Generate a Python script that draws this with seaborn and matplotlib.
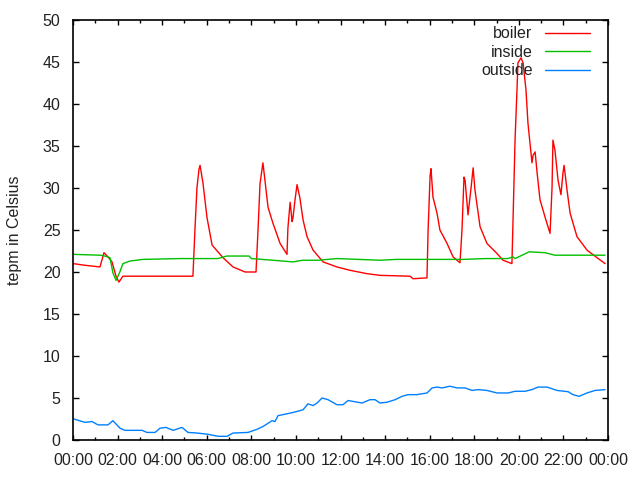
import numpy as np
import pandas as pd
import seaborn as sns
import matplotlib
matplotlib.use("Agg")
import matplotlib.pyplot as plt
from matplotlib.ticker import FuncFormatter, MultipleLocator

# hours since midnight, temperatures
boiler_h = [0.00, 0.54, 1.21, 1.39, 1.57, 1.75, 1.93, 2.06, 2.24, 5.38, 5.47, 5.56, 5.65, 5.70,
            5.83, 6.01, 6.24, 6.73, 7.18, 7.72, 8.21, 8.30, 8.39, 8.52, 8.75, 8.97, 9.29, 9.60,
            9.64, 9.74, 9.83, 9.87, 9.96, 10.05, 10.18, 10.32, 10.50, 10.77, 11.22, 11.84, 12.43,
            13.19, 13.77, 15.12, 15.25, 15.88, 15.93, 16.02, 16.06, 16.15, 16.33, 16.46, 16.78,
            17.05, 17.36, 17.45, 17.54, 17.59, 17.72, 17.86, 17.95, 18.03, 18.26, 18.57, 19.02,
            19.29, 19.69, 19.83, 19.92, 19.96, 20.10, 20.19, 20.32, 20.41, 20.59, 20.64, 20.73,
            20.82, 20.95, 21.18, 21.40, 21.49, 21.53, 21.62, 21.76, 21.89, 21.98, 22.03, 22.16,
            22.30, 22.61, 23.06, 23.51, 23.87]
boiler_t = [21.0, 20.8, 20.6, 22.3, 21.8, 21.2, 19.5, 18.8, 19.5, 19.5, 25.0, 30.0, 32.2, 32.7,
            30.6, 26.5, 23.2, 21.7, 20.6, 20.0, 20.0, 25.0, 30.5, 33.0, 27.7, 25.8, 23.4, 22.1,
            25.2, 28.3, 26.0, 26.5, 28.6, 30.4, 28.8, 26.2, 24.2, 22.6, 21.2, 20.6, 20.2,
            19.8, 19.6, 19.5, 19.2, 19.3, 25.0, 31.5, 32.3, 28.9, 27.0, 25.0, 23.4,
            21.8, 21.1, 25.0, 31.3, 30.9, 26.8, 30.1, 32.4, 29.8, 25.4, 23.4, 22.2,
            21.4, 21.0, 35.7, 41.9, 44.9, 45.5, 44.9, 41.7, 37.7, 33.0, 33.9, 34.3,
            31.8, 28.6, 26.5, 24.6, 30.1, 35.7, 34.5, 30.9, 29.2, 31.8, 32.7, 29.8,
            27.0, 24.2, 22.6, 21.7, 21.0]

inside_h = [0.00, 1.21, 1.43, 1.66, 1.79, 1.93, 2.10, 2.24, 2.55, 3.14, 4.80, 6.50, 6.90, 7.90,
            8.00, 8.97, 9.87, 10.30, 11.00, 11.84, 13.77, 14.50, 15.50, 16.50, 17.50, 18.50,
            19.50, 19.74, 19.83, 20.46, 21.17, 21.62, 22.50, 23.87]
inside_t = [22.1, 22.0, 21.9, 21.7, 19.9, 19.0, 20.0, 21.0, 21.3, 21.5, 21.6, 21.6, 21.9, 21.9,
            21.6, 21.4, 21.2, 21.4, 21.4, 21.6, 21.4, 21.5, 21.5, 21.5, 21.5, 21.6,
            21.6, 21.8, 21.6, 22.4, 22.3, 22.0, 22.0, 22.0]

outside_h = [0.04, 0.54, 0.85, 1.12, 1.57, 1.79, 2.11, 2.33, 3.10, 3.32, 3.68, 3.90, 4.17, 4.49,
             4.89, 5.16, 5.56, 6.06, 6.51, 6.91, 7.18, 7.85, 8.25, 8.52, 8.93, 9.06, 9.20, 9.74,
             10.05, 10.32, 10.54, 10.77, 10.95, 11.17, 11.44, 11.84, 12.11, 12.34, 12.97, 13.32,
             13.55, 13.77, 14.09, 14.45, 14.76, 15.03, 15.43, 15.88, 16.11, 16.33, 16.55, 16.91,
             17.23, 17.59, 17.90, 18.17, 18.57, 19.02, 19.52, 19.83, 20.28, 20.59, 20.86, 21.27,
             21.71, 22.21, 22.43, 22.70, 23.06, 23.42, 23.87]
outside_t = [2.5, 2.1, 2.2, 1.8, 1.8, 2.3, 1.4, 1.15, 1.15, 0.9, 0.9, 1.4, 1.5, 1.15,
             1.5, 0.9, 0.83, 0.68, 0.44, 0.44, 0.83, 0.9, 1.27, 1.6, 2.3, 2.2, 2.9, 3.2,
             3.4, 3.6, 4.3, 4.1, 4.4, 5.0, 4.8, 4.2, 4.2, 4.7, 4.4, 4.8,
             4.8, 4.4, 4.5, 4.8, 5.2, 5.4, 5.4, 5.6, 6.2, 6.3, 6.2, 6.4,
             6.2, 6.2, 5.9, 6.0, 5.9, 5.6, 5.6, 5.8, 5.8, 6.0, 6.3, 6.3,
             5.9, 5.75, 5.4, 5.2, 5.6, 5.9, 6.0]

series = ["boiler", "inside", "outside"]
colors = {"boiler": "#ff0000", "inside": "#00c000", "outside": "#0080ff"}

df = pd.concat([
    pd.DataFrame({"hour": boiler_h, "temp": boiler_t, "sensor": "boiler"}),
    pd.DataFrame({"hour": inside_h, "temp": inside_t, "sensor": "inside"}),
    pd.DataFrame({"hour": outside_h, "temp": outside_t, "sensor": "outside"}),
])

sns.set_style("ticks")
plt.rcParams["font.family"] = ["Liberation Sans", "DejaVu Sans"]

fig = plt.figure(figsize=(6.4, 4.8), dpi=100)
ax = fig.add_axes([73 / 640, 40 / 480, 535 / 640, 420 / 480])

sns.lineplot(data=df, x="hour", y="temp", hue="sensor", hue_order=series,
             palette=colors, estimator=None, sort=False, linewidth=1.0, ax=ax)

ax.set_xlim(0, 24)
ax.set_ylim(0, 50)
ax.xaxis.set_major_locator(MultipleLocator(2))
ax.xaxis.set_minor_locator(MultipleLocator(1))
ax.yaxis.set_major_locator(MultipleLocator(5))
ax.xaxis.set_major_formatter(FuncFormatter(lambda v, p: "%02d:00" % (int(round(v)) % 24)))

ax.tick_params(axis="both", which="both", direction="in", top=True, right=True,
               width=1, color="black", labelsize=11.5, labelcolor="#222222")
ax.tick_params(axis="x", which="major", length=3.5, pad=9.5)
ax.tick_params(axis="x", which="minor", length=2)
ax.tick_params(axis="y", which="major", length=4, pad=9)
for s in ax.spines.values():
    s.set_linewidth(1.2)
    s.set_color("black")

ax.set_xlabel("")
ax.set_ylabel("tepm in Celsius", fontsize=11.5, color="#222222")
ax.yaxis.set_label_coords(-0.095, 0.5)

leg = ax.legend(loc="upper right", bbox_to_anchor=((590 - 73) / 535, 0.985), frameon=False,
                markerfirst=False, fontsize=11.5, handlelength=2.8, handletextpad=0.8,
                labelspacing=0.22, borderpad=0, borderaxespad=0)
for t in leg.get_texts():
    t.set_color("#222222")

fig.savefig("out.png", dpi=100)
